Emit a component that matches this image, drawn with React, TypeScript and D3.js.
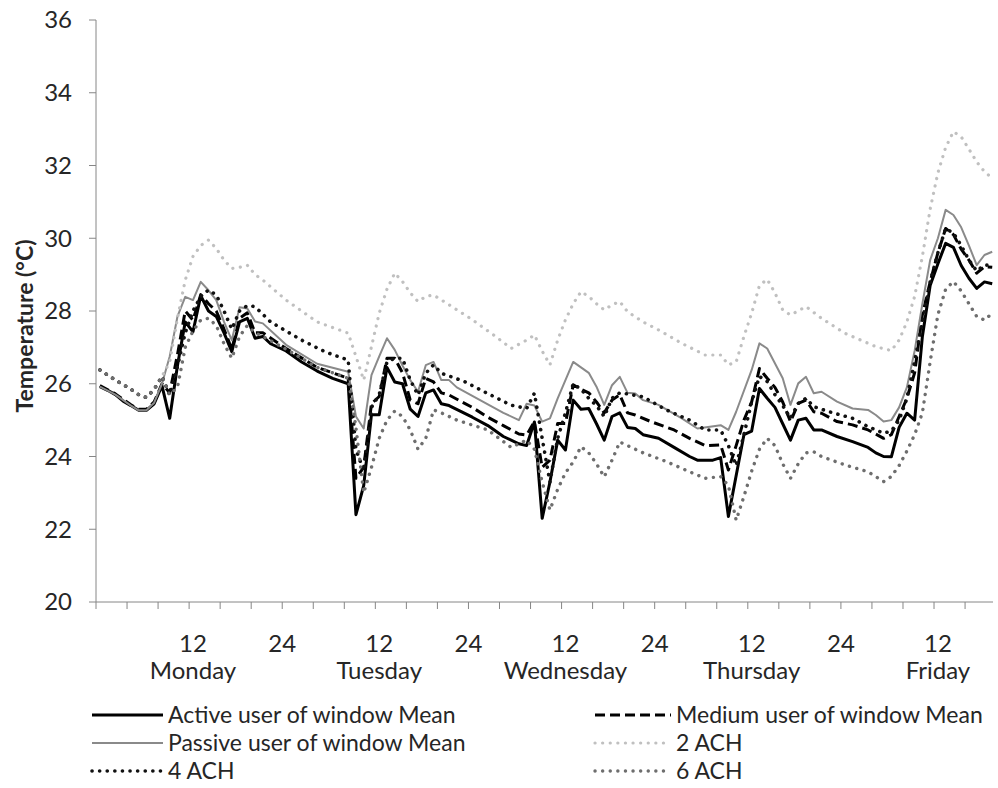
import * as d3 from 'd3';

// hourly categories, Monday 00h at index 0; values in °C
type Pt = [number, number];

const dayNames = ['Monday', 'Tuesday', 'Wednesday', 'Thursday', 'Friday'];
const hourLabels = ['12', '24'];
const tempTicks = [20, 22, 24, 26, 28, 30, 32, 34, 36];
const hourCount = 115.6;

const activeMean: Pt[] = [
	[0, 25.92], [1, 25.82], [2, 25.7], [3, 25.52], [4, 25.4], [5, 25.27], [6, 25.27], [7, 25.45], [8, 25.95],
	[9, 25.05], [10, 26.5], [11, 27.7], [12, 27.43], [13, 28.42], [14, 28.0], [15, 27.85], [16, 27.4], [17, 26.88],
	[18, 27.7], [19, 27.8], [20, 27.25], [21, 27.3], [22, 27.1], [24, 26.9], [26, 26.6], [28, 26.35], [30, 26.15],
	[32, 26.0], [33, 22.4], [34, 23.2], [35, 25.15], [36, 25.15], [37, 26.45], [38, 26.05], [39, 26.0], [40, 25.3],
	[41, 25.1], [42, 25.75], [43, 25.83], [44, 25.45], [45, 25.4], [48, 25.08], [50, 24.85], [52, 24.55], [54, 24.35],
	[55, 24.3], [56, 24.95], [57, 22.3], [58, 23.3], [59, 24.45], [60, 24.18], [61, 25.55], [62, 25.3], [63, 25.32],
	[64, 24.9], [65, 24.45], [66, 25.1], [67, 25.2], [68, 24.8], [69, 24.77], [70, 24.6], [72, 24.5], [74, 24.25],
	[76, 24.0], [77, 23.9], [79, 23.9], [80, 23.97], [81, 22.35], [83, 24.6], [84, 24.7], [85, 25.87], [86, 25.6],
	[87, 25.35], [88, 24.9], [89, 24.45], [90, 25.0], [91, 25.05], [92, 24.73], [93, 24.73], [95, 24.55], [97, 24.41],
	[99, 24.25], [100, 24.1], [101, 24.0], [102, 23.99], [103, 24.8], [104, 25.19], [105, 25.0], [106, 27.3],
	[107, 28.7], [108, 29.3], [109, 29.86], [110, 29.75], [111, 29.25], [112, 28.9], [113, 28.62], [114, 28.8], [115, 28.75],
];

const mediumMean: Pt[] = [
	[0, 25.95], [2, 25.72], [4, 25.42], [5, 25.3], [6, 25.3], [7, 25.5], [8, 26.0], [9, 25.75], [10, 26.8], [11, 28.0],
	[12, 27.75], [13, 28.45], [14, 28.2], [15, 28.0], [16, 27.5], [17, 26.95], [18, 27.8], [19, 27.95], [20, 27.4],
	[21, 27.4], [24, 26.97], [28, 26.45], [32, 26.15], [33, 23.4], [34, 23.7], [35, 25.45], [36, 25.65], [37, 26.7],
	[38, 26.7], [39, 26.3], [40, 25.55], [41, 25.45], [42, 26.15], [43, 26.05], [44, 25.75], [45, 25.69], [48, 25.35],
	[50, 25.08], [52, 24.85], [54, 24.62], [55, 24.59], [56, 24.96], [57, 23.7], [58, 23.9], [59, 24.91], [60, 24.91],
	[61, 25.97], [62, 25.85], [63, 25.75], [64, 25.5], [65, 25.2], [66, 25.55], [67, 25.7], [68, 25.2], [69, 25.14],
	[71, 24.96], [74, 24.73], [76, 24.5], [78, 24.3], [80, 24.32], [81, 23.63], [82, 24.3], [83, 25.0], [84, 25.5],
	[85, 26.42], [86, 26.15], [87, 25.9], [88, 25.5], [89, 24.96], [90, 25.46], [91, 25.55], [92, 25.23], [93, 25.19],
	[95, 24.96], [97, 24.87], [99, 24.73], [101, 24.5], [102, 24.6], [103, 25.1], [104, 25.6], [105, 26.3], [106, 27.9],
	[107, 28.8], [108, 29.6], [109, 30.27], [110, 30.1], [111, 29.7], [112, 29.4], [113, 29.04], [114, 29.22], [115, 29.2],
];

const passiveMean: Pt[] = [
	[0, 25.92], [2, 25.7], [4, 25.4], [5, 25.27], [6, 25.27], [7, 25.48], [8, 26.0], [9, 26.75], [10, 27.85], [11, 28.39],
	[12, 28.3], [13, 28.8], [14, 28.57], [15, 28.3], [16, 27.7], [17, 27.2], [18, 28.1], [19, 28.07], [20, 27.71],
	[21, 27.66], [24, 27.07], [28, 26.55], [32, 26.33], [33, 25.1], [34, 24.77], [35, 26.24], [36, 26.75], [37, 27.25],
	[38, 26.93], [39, 26.5], [40, 26.1], [41, 25.78], [42, 26.51], [43, 26.6], [44, 26.1], [45, 26.1], [46, 25.9],
	[49, 25.55], [52, 25.2], [54, 25.0], [55, 25.45], [56, 25.4], [57, 24.96], [58, 25.05], [59, 25.6], [60, 26.1],
	[61, 26.6], [62, 26.45], [63, 26.3], [64, 25.92], [65, 25.42], [66, 25.96], [67, 26.19], [68, 25.75], [69, 25.73],
	[70, 25.55], [72, 25.42], [75, 25.05], [77, 24.77], [80, 24.86], [81, 24.73], [82, 25.23], [84, 26.38], [85, 27.11],
	[86, 26.97], [88, 26.15], [89, 25.42], [90, 26.01], [91, 26.19], [92, 25.74], [93, 25.78], [95, 25.51], [97, 25.32],
	[99, 25.28], [100, 25.14], [101, 24.96], [102, 25.0], [103, 25.35], [104, 25.9], [105, 26.9], [106, 28.2],
	[107, 29.4], [108, 30.0], [109, 30.78], [110, 30.64], [111, 30.3], [112, 29.8], [113, 29.26], [114, 29.54], [115, 29.63],
];

const ach2: Pt[] = [
	[0, 26.38], [2, 26.1], [4, 25.85], [5, 25.7], [6, 25.62], [7, 25.85], [8, 26.2], [9, 26.6], [10, 27.8], [11, 28.85],
	[12, 29.5], [13, 29.8], [14, 29.95], [15, 29.72], [16, 29.4], [17, 29.17], [18, 29.2], [19, 29.26], [20, 29.0],
	[21, 28.85], [24, 28.3], [28, 27.7], [32, 27.39], [33, 26.75], [34, 26.1], [35, 27.02], [36, 27.94], [37, 28.6],
	[38, 29.04], [39, 28.81], [40, 28.5], [41, 28.26], [42, 28.4], [43, 28.44], [45, 28.17], [48, 27.76], [51, 27.3],
	[53, 26.97], [55, 27.2], [56, 27.34], [57, 26.9], [58, 26.52], [59, 27.2], [60, 27.76], [61, 28.2], [62, 28.53],
	[63, 28.4], [64, 28.2], [65, 28.03], [66, 28.17], [67, 28.26], [68, 27.98], [70, 27.7], [72, 27.48], [75, 27.11],
	[78, 26.79], [80, 26.79], [81, 26.52], [82, 26.6], [83, 27.3], [84, 27.94], [85, 28.7], [86, 28.87], [87, 28.5],
	[88, 28.03], [89, 27.89], [91, 28.12], [93, 27.8], [96, 27.39], [100, 27.02], [102, 26.91], [103, 27.2], [104, 27.7],
	[105, 28.4], [106, 29.5], [107, 30.8], [108, 31.8], [109, 32.5], [110, 32.93], [111, 32.79], [112, 32.45], [113, 32.1],
	[114, 31.83], [115, 31.65],
];

const ach4: Pt[] = [
	[0, 26.38], [2, 26.1], [4, 25.85], [5, 25.7], [6, 25.62], [7, 25.85], [8, 26.2], [9, 25.69], [10, 26.47], [11, 27.4],
	[12, 28.0], [13, 28.4], [14, 28.58], [15, 28.44], [16, 28.0], [17, 27.5], [18, 28.0], [19, 28.15], [20, 28.12],
	[22, 27.7], [26, 27.2], [29, 26.88], [32, 26.65], [33, 24.2], [34, 23.6], [35, 25.35], [36, 25.7], [37, 26.6],
	[38, 26.7], [39, 26.7], [40, 26.1], [41, 25.69], [42, 26.29], [43, 26.52], [44, 26.29], [47, 26.06], [50, 25.73],
	[53, 25.41], [55, 25.32], [56, 25.74], [57, 24.5], [58, 23.3], [59, 24.5], [60, 25.2], [61, 26.0], [62, 25.85],
	[63, 25.6], [64, 25.4], [65, 25.1], [66, 25.6], [67, 25.75], [68, 25.72], [70, 25.64], [73, 25.28], [76, 25.0],
	[78, 24.73], [80, 24.73], [81, 24.3], [82, 23.75], [83, 24.6], [84, 25.5], [85, 26.2], [86, 26.06], [87, 25.7],
	[88, 25.4], [89, 25.05], [90, 25.46], [91, 25.6], [92, 25.37], [94, 25.23], [97, 25.05], [99, 24.82], [101, 24.64],
	[102, 24.7], [103, 25.0], [104, 25.6], [105, 26.6], [106, 27.7], [107, 28.8], [108, 29.6], [109, 30.27], [110, 30.14],
	[111, 29.8], [112, 29.4], [113, 29.1], [114, 29.26], [115, 29.26],
];

const ach6: Pt[] = [
	[0, 26.38], [2, 26.1], [4, 25.85], [5, 25.7], [6, 25.62], [7, 25.85], [8, 26.2], [9, 25.7], [10, 25.9], [11, 27.0],
	[12, 27.45], [13, 27.75], [14, 27.8], [15, 27.6], [16, 27.1], [17, 26.7], [18, 27.3], [19, 27.6], [20, 27.4],
	[21, 27.3], [24, 26.95], [28, 26.45], [32, 26.15], [33, 24.8], [34, 23.0], [35, 23.7], [36, 24.5], [37, 25.0],
	[38, 25.25], [39, 25.1], [40, 24.73], [41, 24.2], [42, 24.5], [43, 25.28], [44, 25.2], [46, 25.0], [50, 24.73],
	[53, 24.25], [55, 24.45], [56, 24.2], [57, 23.3], [58, 22.53], [59, 23.1], [60, 23.55], [61, 23.85], [62, 24.27],
	[63, 24.1], [64, 23.8], [65, 23.44], [66, 23.9], [67, 24.4], [68, 24.3], [70, 24.1], [73, 23.86], [76, 23.58],
	[78, 23.4], [80, 23.45], [81, 23.2], [82, 22.25], [83, 22.9], [84, 23.6], [85, 24.2], [86, 24.5], [87, 24.3],
	[88, 23.8], [89, 23.4], [90, 23.8], [91, 24.1], [92, 24.13], [93, 24.0], [96, 23.77], [99, 23.58], [101, 23.31],
	[102, 23.45], [103, 23.75], [104, 24.15], [105, 24.6], [106, 25.2], [107, 26.6], [108, 27.9], [109, 28.6],
	[110, 28.81], [111, 28.55], [112, 28.2], [113, 27.85], [114, 27.75], [115, 27.94],
];

const seriesList = [
	{ name: 'Active user of window Mean', data: activeMean, color: '#000000', width: 3, dash: '', cap: 'butt' },
	{ name: 'Medium user of window Mean', data: mediumMean, color: '#000000', width: 3, dash: '10,5', cap: 'butt' },
	{ name: 'Passive user of window Mean', data: passiveMean, color: '#8a8a8a', width: 2, dash: '', cap: 'butt' },
	{ name: '2 ACH', data: ach2, color: '#c0c0c0', width: 3.2, dash: '0.1,7.5', cap: 'round' },
	{ name: '4 ACH', data: ach4, color: '#111111', width: 3.6, dash: '0.1,7.5', cap: 'round' },
	{ name: '6 ACH', data: ach6, color: '#6e6e6e', width: 3.4, dash: '0.1,7.5', cap: 'round' },
];

const font = 'Lato, "Open Sans", sans-serif';
const textColor = '#262626';
const axisColor = '#868686';

export default function App() {
	const width = 998;
	const height = 788;
	const plot = { left: 96, right: 993, top: 20, bottom: 602 };

	const x = d3.scaleLinear().domain([0, hourCount]).range([plot.left, plot.right]);
	const y = d3.scaleLinear().domain([20, 36]).range([plot.bottom, plot.top]);
	const line = d3
		.line<Pt>()
		.x((d) => x(d[0] + 0.5))
		.y((d) => y(d[1]));
	const hourTicks = d3.range(0, hourCount, 4);

	// legend: two columns, three rows
	const legendRows = [715, 743, 771];
	const legendCols = [
		{ x1: 92, x2: 163, tx: 168 },
		{ x1: 595, x2: 671, tx: 676 },
	];

	return (
		<svg width={width} height={height} style={{ position: 'absolute', left: 0, top: 0, background: '#fff' }} fontFamily={font}>
			<rect width={width} height={height} fill="#fff" />

			{/* y axis */}
			<line x1={plot.left} x2={plot.left} y1={plot.top} y2={plot.bottom} stroke={axisColor} />
			{tempTicks.map((t) => (
				<g key={t}>
					<line x1={plot.left - 7} x2={plot.left} y1={y(t)} y2={y(t)} stroke={axisColor} />
					<text x={72} y={y(t)} dy="0.35em" textAnchor="end" fontSize={24} fill={textColor}>
						{t}
					</text>
				</g>
			))}
			<text
				transform={`translate(25,${(plot.top + plot.bottom) / 2 + 15}) rotate(-90)`}
				textAnchor="middle"
				dy="0.35em"
				fontSize={23}
				fontWeight="bold"
				fill={textColor}
			>
				Temperature (°C)
			</text>

			{/* x axis */}
			<line x1={plot.left} x2={plot.right} y1={plot.bottom} y2={plot.bottom} stroke={axisColor} />
			{hourTicks.map((h) => (
				<line key={h} x1={x(h)} x2={x(h)} y1={plot.bottom} y2={plot.bottom + 7} stroke={axisColor} />
			))}
			{dayNames.map((day, d) => (
				<g key={day}>
					{hourLabels.map((lab, k) => {
						const h = d * 24 + (k === 0 ? 12.5 : 24);
						if (h > hourCount) return null;
						return (
							<text key={lab} x={x(h)} y={652} textAnchor="middle" fontSize={24} fill={textColor}>
								{lab}
							</text>
						);
					})}
					<text x={x(d * 24 + 12.5)} y={679} textAnchor="middle" fontSize={24} fill={textColor}>
						{day}
					</text>
				</g>
			))}

			{/* series */}
			{seriesList.map((s) => (
				<path
					key={s.name}
					d={line(s.data) ?? ''}
					fill="none"
					stroke={s.color}
					strokeWidth={s.width}
					strokeDasharray={s.dash || undefined}
					strokeLinecap={s.cap as 'butt' | 'round'}
					strokeLinejoin="round"
				/>
			))}

			{/* legend */}
			{seriesList.map((s, i) => {
				const col = legendCols[i % 2];
				const ly = legendRows[Math.floor(i / 2)];
				return (
					<g key={s.name}>
						<line
							x1={col.x1}
							x2={col.x2}
							y1={ly}
							y2={ly}
							stroke={s.color}
							strokeWidth={s.width}
							strokeDasharray={s.dash || undefined}
							strokeLinecap={s.cap as 'butt' | 'round'}
						/>
						<text x={col.tx} y={ly} dy="0.35em" fontSize={23} fill={textColor}>
							{s.name}
						</text>
					</g>
				);
			})}
		</svg>
	);
}
